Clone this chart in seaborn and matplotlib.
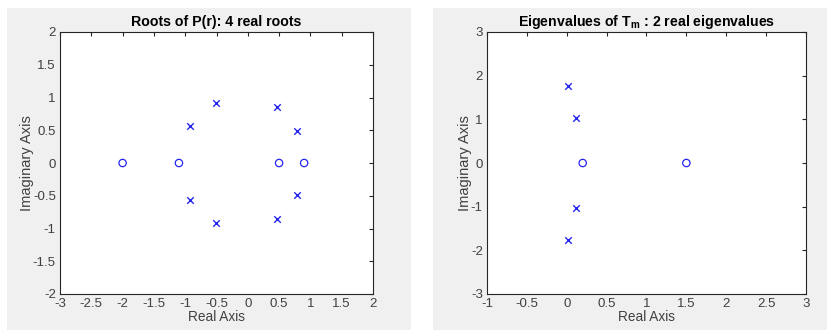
import matplotlib
matplotlib.use("Agg")
import matplotlib.pyplot as plt
import seaborn as sns
import numpy as np
from matplotlib.patches import Rectangle

# ---- data ----
p_roots_re = [-2.0, -1.1, 0.5, 0.9]
p_roots_im = [0.0, 0.0, 0.0, 0.0]
p_cross_re = [-0.51, -0.92, 0.47, 0.79, 0.79, 0.47, -0.92, -0.51]
p_cross_im = [0.91, 0.56, 0.85, 0.485, -0.485, -0.85, -0.56, -0.91]

t_circ_re = [0.2, 1.5]
t_circ_im = [0.0, 0.0]
t_cross_re = [0.02, 0.11, 0.11, 0.02]
t_cross_im = [1.76, 1.04, -1.04, -1.76]

left_xticks = [-3, -2.5, -2, -1.5, -1, -0.5, 0, 0.5, 1, 1.5, 2]
left_yticks = [-2, -1.5, -1, -0.5, 0, 0.5, 1, 1.5, 2]
right_xticks = [-1, -0.5, 0, 0.5, 1, 1.5, 2, 2.5, 3]
right_yticks = [-3, -2, -1, 0, 1, 2, 3]

sns.set_theme(style="white")
plt.rcParams['font.family'] = ['Liberation Sans', 'DejaVu Sans']
plt.rcParams['mathtext.fontset'] = 'custom'
plt.rcParams['mathtext.rm'] = 'Liberation Sans:bold'
plt.rcParams['mathtext.it'] = 'Liberation Sans:bold'

W, H = 828, 330
fig = plt.figure(figsize=(W / 100, H / 100), dpi=100, facecolor='white')

# gray panel backgrounds
fig.patches.append(Rectangle((7 / W, 0), (411 - 7) / W, (330 - 8) / H,
                             transform=fig.transFigure, facecolor='#f0f0f0',
                             edgecolor='none', zorder=-10))
fig.patches.append(Rectangle((433 / W, 0), (828 - 433) / W, (330 - 8) / H,
                             transform=fig.transFigure, facecolor='#f0f0f0',
                             edgecolor='none', zorder=-10))

def ax_rect(x0, x1, y0, y1):
    return [x0 / W, 1 - y1 / H, (x1 - x0) / W, (y1 - y0) / H]

ax1 = fig.add_axes(ax_rect(60, 373, 32, 294))
ax2 = fig.add_axes(ax_rect(487, 806, 32, 294))

blue = '#2626f0'

def style(ax, xt, yt, xlim, ylim, title):
    ax.set_facecolor('white')
    ax.set_xlim(*xlim)
    ax.set_ylim(*ylim)
    ax.set_xticks(xt)
    ax.set_yticks(yt)
    ax.set_xticklabels([f"{v:g}" for v in xt])
    ax.set_yticklabels([f"{v:g}" for v in yt])
    ax.tick_params(direction='in', length=3, width=0.8, top=True, right=True,
                   labelsize=9.5, colors='#262626', labelcolor='#404040', pad=3)
    for s in ax.spines.values():
        s.set_color('#262626')
        s.set_linewidth(0.8)
        s.set_visible(True)
    ax.set_xlabel('Real Axis', fontsize=9.8, color='#404040', labelpad=0)
    ax.set_ylabel('Imaginary Axis', fontsize=10.5, color='#404040', labelpad=-1)
    ax.set_title(title, fontsize=10.2, fontweight='bold', color='black', pad=4)

sns.scatterplot(x=p_roots_re, y=p_roots_im, ax=ax1, marker='o', s=28,
                facecolors='none', edgecolor=blue, linewidth=0.9)
sns.scatterplot(x=p_cross_re, y=p_cross_im, ax=ax1, marker='x', s=22,
                color=blue, linewidth=1.0)
style(ax1, left_xticks, left_yticks, (-3, 2), (-2, 2), 'Roots of P(r): 4 real roots')

sns.scatterplot(x=t_circ_re, y=t_circ_im, ax=ax2, marker='o', s=28,
                facecolors='none', edgecolor=blue, linewidth=0.9)
sns.scatterplot(x=t_cross_re, y=t_cross_im, ax=ax2, marker='x', s=22,
                color=blue, linewidth=1.0)
style(ax2, right_xticks, right_yticks, (-1, 3), (-3, 3),
      r'Eigenvalues of T$_{\mathrm{m}}$ : 2 real eigenvalues')

fig.savefig('out.png', dpi=100, facecolor=fig.get_facecolor())
